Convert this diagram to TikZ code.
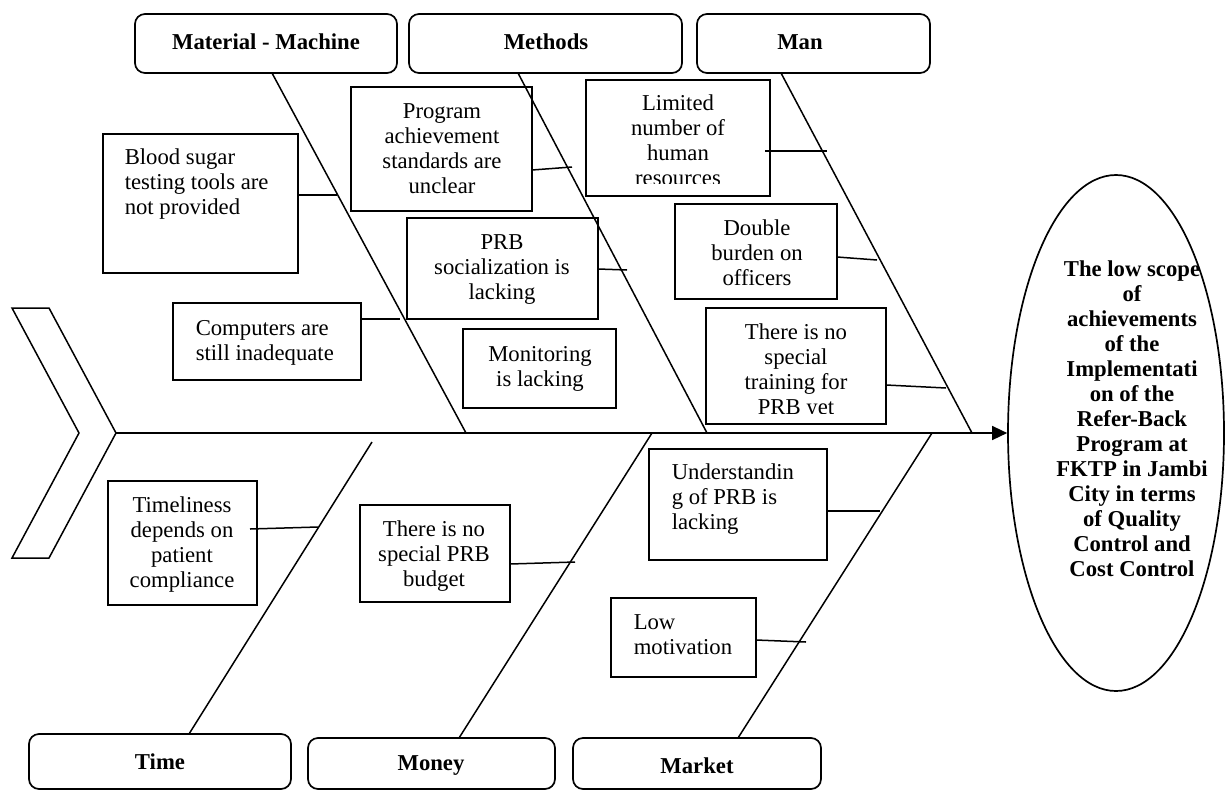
\documentclass[tikz,border=0pt]{standalone}
\usepackage{fontspec}
\setmainfont{Liberation Serif}
\usetikzlibrary{arrows.meta,shapes.geometric,calc}
\begin{document}
\begin{tikzpicture}[x=1pt,y=-1pt,
  line width=1.5pt,
  box/.style={draw, line width=1.7pt, inner sep=0pt, outer sep=0pt, rectangle},
  cat/.style={box, rounded corners=10pt},
  txt/.style={inner sep=0pt, font=\fontsize{22.7}{25}\selectfont},
  btxt/.style={inner sep=0pt, font=\fontsize{22.7}{25}\selectfont\bfseries},
  bone/.style={line width=1.5pt},
]
\useasboundingbox (0,0) rectangle (1225,790);

% chevron tail
\draw[line width=1.5pt] (12,308) -- (49,308) -- (116,433) -- (49,558) -- (12,558) -- (79,433) -- cycle;
\coordinate (tail) at (116,433);

% effect ellipse
\node[draw, ellipse, line width=1.7pt, inner sep=0pt, minimum width=216pt, minimum height=516pt] (goal) at (1116,433) {};
\node[btxt, align=center, anchor=north] (goalT) at (1132,258.5) {\strut The low scope\\of\\achievements\\of the\\Implementati\\on of the\\Refer-Back\\Program at\\FKTP in Jambi\\City in terms\\of Quality\\Control and\\Cost Control};

% spine
\draw[bone, -{Triangle[length=15pt,width=14pt]}] (tail) -- (goal.west);

% category boxes
\node[cat, minimum width=262pt, minimum height=59pt] (mm) at (266,43.5) {};
\node[btxt] (mmT) at (266,42) {Material - Machine};
\node[cat, minimum width=273pt, minimum height=59pt] (meth) at (545.5,43.5) {};
\node[btxt] (methT) at (546,42) {Methods};
\node[cat, minimum width=233pt, minimum height=59pt] (man) at (813.5,43.5) {};
\node[btxt] (manT) at (800,42) {Man};
\node[cat, minimum width=262pt, minimum height=55pt] (time) at (160,761.5) {};
\node[btxt] (timeT) at (160,762) {Time};
\node[cat, minimum width=247pt, minimum height=51pt] (money) at (431.5,763.5) {};
\node[btxt] (moneyT) at (431,766) {Money};
\node[cat, minimum width=248pt, minimum height=51pt] (market) at (697,763.5) {};
\node[btxt] (marketT) at (697,766) {Market};

% bone end points
\coordinate (s1) at (466,433);
\coordinate (s2) at (707,433);
\coordinate (s3) at (972,433);
\coordinate (s4) at (372,442);
\coordinate (s5) at (652,433);
\coordinate (s6) at (932,433);

\draw[bone] (mm.south -| 272,0) -- (s1);
\draw[bone] (meth.south -| 518,0) -- (s2);
\draw[bone] (man.south -| 781,0) -- (s3);
\draw[bone] (time.north -| 189,0) -- (s4);
\draw[bone] (money.north -| 459,0) -- (s5);
\draw[bone] (market.north -| 738,0) -- (s6);

% cause boxes
\node[box, minimum width=195pt, minimum height=139pt] (bs) at (200.5,203.5) {};
\node[txt, align=left, anchor=north west] (bsT) at (124,146.5) {\strut Blood sugar\\testing tools are\\not provided};

\node[box, minimum width=188pt, minimum height=77pt] (comp) at (267,341.5) {};
\node[txt, align=left, anchor=north west] (compT) at (195,317.5) {\strut Computers are\\still inadequate};

\node[box, minimum width=181pt, minimum height=124pt] (prog) at (441.5,149) {};
\node[txt, align=center, anchor=north] (progT) at (442,100.5) {\strut Program\\achievement\\standards are\\unclear};

\node[box, minimum width=184pt, minimum height=116pt] (lim) at (678,138) {};
\begin{scope}
\clip (586,80) rectangle (770,183);
\node[txt, align=center, anchor=north] (limT) at (678,92.5) {\strut Limited\\number of\\human\\resources};
\end{scope}

\node[box, minimum width=191pt, minimum height=101pt] (soc) at (502.5,268.5) {};
\node[txt, align=center, anchor=north] (socT) at (502,231.5) {\strut PRB\\socialization is\\lacking};

\node[box, minimum width=153pt, minimum height=79pt] (mon) at (539.5,368.5) {};
\node[txt, align=center, anchor=north] (monT) at (540,343.5) {\strut Monitoring\\is lacking};

\node[box, minimum width=162pt, minimum height=95pt] (dbl) at (756,251.5) {};
\node[txt, align=center, anchor=north] (dblT) at (757,217.5) {\strut Double\\burden on\\officers};

\node[box, minimum width=180pt, minimum height=116pt] (trn) at (796,366) {};
\begin{scope}
\clip (706,308) rectangle (886,413);
\node[txt, align=center, anchor=north] (trnT) at (796,321.5) {\strut There is no\\special\\training for\\PRB yet};
\end{scope}

\node[box, minimum width=149pt, minimum height=124pt] (tml) at (182.5,543) {};
\node[txt, align=center, anchor=north] (tmlT) at (182,494.5) {\strut Timeliness\\depends on\\patient\\compliance};

\node[box, minimum width=150pt, minimum height=97pt] (bud) at (435,553.5) {};
\node[txt, align=center, anchor=north] (budT) at (434,518.5) {\strut There is no\\special PRB\\budget};

\node[box, minimum width=178pt, minimum height=111pt] (und) at (738,504.5) {};
\node[txt, align=left, anchor=north west] (undT) at (671,461.5) {\strut Understandin\\g of PRB is\\lacking};

\node[box, minimum width=145pt, minimum height=79pt] (low) at (683.5,637.5) {};
\node[txt, align=left, anchor=north west] (lowT) at (633,611.5) {\strut Low\\motivation};

% connectors
\coordinate (c1) at (337,195);
\coordinate (c2) at (400,319);
\coordinate (c3) at (572,167);
\coordinate (c4) at (827,151);
\coordinate (c5) at (627,270);
\coordinate (c6) at (877,260);
\coordinate (c7) at (946,388);
\coordinate (c8) at (318,527);
\coordinate (c9) at (575,562);
\coordinate (c10) at (880,511);
\coordinate (c11) at (806,642);

\draw[bone] (bs.east |- 0,195) -- (c1);
\draw[bone] (comp.east |- 0,319) -- (c2);
\draw[bone] (prog.east |- 0,170) -- (c3);
\draw[bone] ($(lim.east |- 0,151)+(-5,0)$) -- (c4);
\draw[bone] (soc.east |- 0,269) -- (c5);
\draw[bone] (dbl.east |- 0,257) -- (c6);
\draw[bone] (trn.east |- 0,385) -- (c7);
\draw[bone] ($(tml.east |- 0,529)+(-7,0)$) -- (c8);
\draw[bone] (bud.east |- 0,564) -- (c9);
\draw[bone] (und.east |- 0,511) -- (c10);
\draw[bone] (low.east |- 0,640) -- (c11);
\end{tikzpicture}
\end{document}
